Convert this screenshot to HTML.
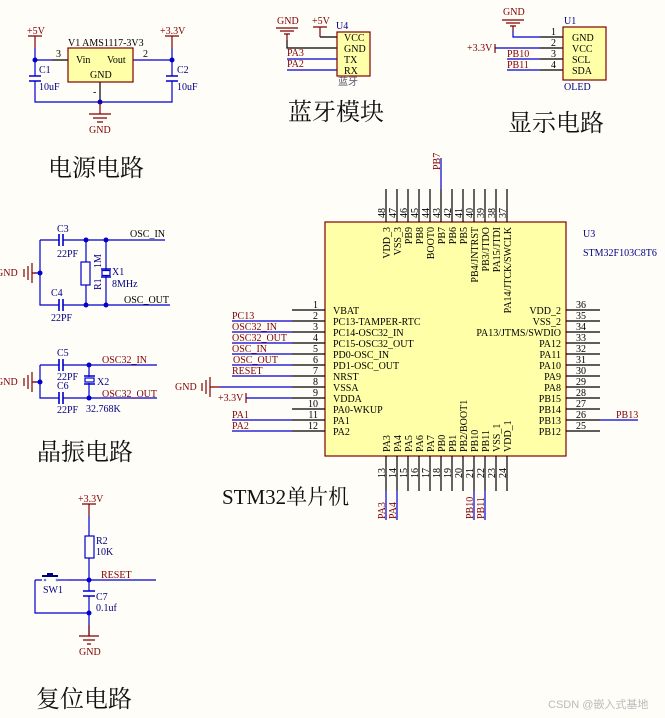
<!DOCTYPE html>
<html><head><meta charset="utf-8"><style>
html,body{margin:0;padding:0;background:#fffdf8}
svg{display:block}
text{font-family:"Liberation Serif","Noto Serif CJK SC",serif;font-size:10px}
.cn{font-family:"Noto Serif CJK SC","Noto Sans CJK SC",serif;font-size:24px;fill:#111}
.net{fill:#800000}
.bl{fill:#000080}
.w{stroke:#0000d0;stroke-width:1.2;fill:none}
.p{stroke:#000;stroke-width:1.2;fill:none}
.r{stroke:#800000;stroke-width:1.2;fill:none}
.cap{stroke:#0000d0;stroke-width:1.6;fill:none}
</style></head><body>
<svg width="665" height="718" viewBox="0 0 665 718" xmlns="http://www.w3.org/2000/svg">
<!-- POWER -->
<text x="27" y="34" class="net">+5V</text>
<path class="r" d="M28 36H42M35 36V48"/>
<path class="w" d="M35 48V76M35 81V102H172V81M172 76V48M35 60H52M133 60H172"/>
<path class="p" d="M52 60H68M100 82V102"/>
<path class="cap" d="M29 76H41M29 81H41M166 76H178M166 81H178"/>
<rect x="68" y="48" width="65" height="34" fill="#ffffa8" stroke="#800000" stroke-width="1.2"/>
<text x="68" y="46">V1  AMS1117-3V3</text>
<text x="56" y="57">3</text><text x="143" y="57">2</text>
<text x="76" y="63">Vin</text><text x="107" y="63">Vout</text><text x="90" y="78">GND</text>
<text x="93" y="95">-</text>
<text x="39" y="73" class="bl">C1</text><text x="39" y="90" class="bl">10uF</text>
<text x="177" y="73" class="bl">C2</text><text x="177" y="90" class="bl">10uF</text>
<text x="160" y="34" class="net">+3.3V</text>
<path class="r" d="M165 36H179M172 36V48"/>
<circle cx="35" cy="60" r="2.5" fill="#0000d0"/><circle cx="172" cy="60" r="2.5" fill="#0000d0"/><circle cx="100" cy="102" r="2.5" fill="#0000d0"/>
<path class="r" d="M100 102V114M89 114H111M93 118H107M97 122H103"/>
<text x="89" y="133" class="net">GND</text>
<text x="48" y="176" class="cn">电源电路</text>

<!-- BLUETOOTH -->
<text x="277" y="24" class="net">GND</text>
<path class="r" d="M276 28H298M280 31H294M284 34H290M287 34V40"/>
<path class="p" d="M287 40V48H337M320 37H337"/>
<text x="312" y="24" class="net">+5V</text>
<path class="r" d="M313 27H327M320 27V37"/>
<path class="w" d="M287 59H337M287 70H337"/>
<text x="287" y="56" class="net">PA3</text><text x="287" y="67" class="net">PA2</text>
<rect x="337" y="32" width="33" height="44" fill="#ffffa8" stroke="#800000" stroke-width="1.2"/>
<text x="336" y="29" class="bl">U4</text>
<text x="344" y="41">VCC</text><text x="344" y="52">GND</text><text x="344" y="63">TX</text><text x="344" y="74">RX</text>
<text x="338" y="85" style="fill:#556;font-family:'Noto Sans CJK SC',sans-serif;font-size:10px">蓝牙</text>
<text x="288" y="120" class="cn">蓝牙模块</text>

<!-- OLED -->
<text x="503" y="15" class="net">GND</text>
<path class="r" d="M502 20H524M506 23H520M510 26H516M513 26V31"/>
<path class="w" d="M513 31V37H540"/>
<text x="467" y="51" class="net">+3.3V</text>
<path class="r" d="M495 44V53"/>
<path class="w" d="M495 48H540M507 59H540M507 70H540"/>
<path class="p" d="M540 37H563M540 48H563M540 59H563M540 70H563"/>
<text x="551" y="35">1</text><text x="551" y="46">2</text><text x="551" y="57">3</text><text x="551" y="68">4</text>
<text x="507" y="57" class="net">PB10</text><text x="507" y="68" class="net">PB11</text>
<rect x="563" y="27" width="43" height="53" fill="#ffffa8" stroke="#800000" stroke-width="1.2"/>
<text x="564" y="24" class="bl">U1</text><text x="564" y="90" class="bl">OLED</text>
<text x="572" y="41">GND</text><text x="572" y="52">VCC</text><text x="572" y="63">SCL</text><text x="572" y="74">SDA</text>
<text x="508" y="131" class="cn">显示电路</text>

<!-- CRYSTAL 8M -->
<path class="w" d="M40 240H59M63 240H165M40 240V305H59M63 305H170M86 240V262M86 285V305M106 240V270M106 276V305M34 273H40"/>
<path class="cap" d="M59 234V246M63 234V246M59 299V311M63 299V311M101 269H111M101 277H111"/>
<rect x="81" y="262" width="9" height="23" fill="none" stroke="#0000d0" stroke-width="1.2"/>
<rect x="102" y="270.5" width="8" height="5" fill="none" stroke="#0000d0" stroke-width="1.2"/>
<circle cx="86" cy="240" r="2.5" fill="#0000d0"/><circle cx="106" cy="240" r="2.5" fill="#0000d0"/>
<circle cx="86" cy="305" r="2.5" fill="#0000d0"/><circle cx="106" cy="305" r="2.5" fill="#0000d0"/><circle cx="40" cy="273" r="2.5" fill="#0000d0"/>
<path class="r" d="M24 269V277M28 266V280M32 263V283M32 273H36"/>
<text x="-4" y="276" class="net">GND</text>
<text x="57" y="232" class="bl">C3</text><text x="57" y="257" class="bl">22PF</text>
<text x="51" y="296" class="bl">C4</text><text x="51" y="321" class="bl">22PF</text>
<text transform="translate(101,290) rotate(-90)" class="bl">R1</text>
<text transform="translate(101,268) rotate(-90)" class="bl">1M</text>
<text x="112" y="275" class="bl">X1</text><text x="112" y="287" class="bl">8MHz</text>
<text x="130" y="237" style="fill:#000">OSC_IN</text>
<text x="124" y="303" style="fill:#000">OSC_OUT</text>
<!-- CRYSTAL 32K -->
<path class="w" d="M40 365H59M63 365H157M40 365V398H59M63 398H157M89 365V377M89 383V398M34 382H40"/>
<path class="cap" d="M59 359V371M63 359V371M59 392V404M63 392V404M84 376H95M84 384H95"/>
<rect x="85" y="378" width="9" height="4" fill="none" stroke="#0000d0" stroke-width="1.2"/>
<circle cx="89" cy="365" r="2.5" fill="#0000d0"/><circle cx="89" cy="398" r="2.5" fill="#0000d0"/><circle cx="40" cy="382" r="2.5" fill="#0000d0"/>
<path class="r" d="M24 378V386M28 375V389M32 372V392M32 382H36"/>
<text x="-4" y="385" class="net">GND</text>
<text x="57" y="356" class="bl">C5</text><text x="57" y="380" class="bl">22PF</text>
<text x="57" y="389" class="bl">C6</text><text x="57" y="413" class="bl">22PF</text>
<text x="97" y="385" class="bl">X2</text><text x="86" y="412" class="bl">32.768K</text>
<text x="102" y="363" class="net">OSC32_IN</text><text x="102" y="397" class="net">OSC32_OUT</text>
<text x="37" y="460" class="cn">晶振电路</text>

<!-- RESET -->
<text x="78" y="502" class="net">+3.3V</text>
<path class="r" d="M82 504H96M89 504V516"/>
<path class="w" d="M89 516V536M89 558V591M89 596V636M68 580H156M35 580H42M35 580V613H89"/>
<rect x="85" y="536" width="9" height="22" fill="none" stroke="#0000d0" stroke-width="1.2"/>
<path class="cap" d="M83 591H95M83 596H95"/>
<path d="M42 576H58M47 574H53" stroke="#000080" stroke-width="2"/>
<circle cx="45" cy="580" r="1.3" fill="#6080d0"/><circle cx="57" cy="580" r="1.3" fill="#6080d0"/>
<path class="w" d="M58 580H68"/>
<circle cx="89" cy="580" r="2.5" fill="#0000d0"/><circle cx="89" cy="613" r="2.5" fill="#0000d0"/>
<path class="r" d="M89 625V636M79 636H99M83 640H95M87 644H91"/>
<text x="79" y="655" class="net">GND</text>
<text x="101" y="578" class="net">RESET</text>
<text x="43" y="593" class="bl">SW1</text>
<text x="96" y="544" class="bl">R2</text><text x="96" y="555" class="bl">10K</text>
<text x="96" y="600" class="bl">C7</text><text x="96" y="611" class="bl">0.1uf</text>
<text x="36" y="707" class="cn">复位电路</text>

<!-- STM32 -->
<rect x="325" y="222" width="241" height="234" fill="#ffffa8" stroke="#800000" stroke-width="1.2"/>
<text x="583" y="237" class="bl">U3</text><text x="583" y="256" class="bl">STM32F103C8T6</text>
<path class="p" d="M386 189V222M397 189V222M408 189V222M419 189V222M430 189V222M441 189V222M452 189V222M463 189V222M474 189V222M485 189V222M496 189V222M507 189V222"/>
<path class="w" d="M441 158V189"/>
<text transform="translate(440,170) rotate(-90)" class="net">PB7</text>
<g>
<text transform="translate(385,218) rotate(-90)">48</text><text transform="translate(396,218) rotate(-90)">47</text>
<text transform="translate(407,218) rotate(-90)">46</text><text transform="translate(418,218) rotate(-90)">45</text>
<text transform="translate(429,218) rotate(-90)">44</text><text transform="translate(440,218) rotate(-90)">43</text>
<text transform="translate(451,218) rotate(-90)">42</text><text transform="translate(462,218) rotate(-90)">41</text>
<text transform="translate(473,218) rotate(-90)">40</text><text transform="translate(484,218) rotate(-90)">39</text>
<text transform="translate(495,218) rotate(-90)">38</text><text transform="translate(506,218) rotate(-90)">37</text>
</g>
<g text-anchor="end">
<text transform="translate(390,227) rotate(-90)">VDD_3</text><text transform="translate(401,227) rotate(-90)">VSS_3</text>
<text transform="translate(412,227) rotate(-90)">PB9</text><text transform="translate(423,227) rotate(-90)">PB8</text>
<text transform="translate(434,227) rotate(-90)">BOOT0</text><text transform="translate(445,227) rotate(-90)">PB7</text>
<text transform="translate(456,227) rotate(-90)">PB6</text><text transform="translate(467,227) rotate(-90)">PB5</text>
<text transform="translate(478,227) rotate(-90)">PB4/JNTRST</text><text transform="translate(489,227) rotate(-90)">PB3/JTDO</text>
<text transform="translate(500,227) rotate(-90)">PA15/JTDI</text><text transform="translate(511,227) rotate(-90)">PA14/JTCK/SWCLK</text>
</g>
<!-- bottom -->
<path class="p" d="M386 456V491M397 456V491M408 456V491M419 456V491M430 456V491M441 456V491M452 456V491M463 456V491M474 456V491M485 456V491M496 456V491M507 456V491"/>
<path class="w" d="M386 491V520M397 491V520M474 491V520M485 491V520"/>
<g>
<text transform="translate(385,478) rotate(-90)">13</text><text transform="translate(396,478) rotate(-90)">14</text>
<text transform="translate(407,478) rotate(-90)">15</text><text transform="translate(418,478) rotate(-90)">16</text>
<text transform="translate(429,478) rotate(-90)">17</text><text transform="translate(440,478) rotate(-90)">18</text>
<text transform="translate(451,478) rotate(-90)">19</text><text transform="translate(462,478) rotate(-90)">20</text>
<text transform="translate(473,478) rotate(-90)">21</text><text transform="translate(484,478) rotate(-90)">22</text>
<text transform="translate(495,478) rotate(-90)">23</text><text transform="translate(506,478) rotate(-90)">24</text>
<text transform="translate(385,519) rotate(-90)" class="net">PA3</text><text transform="translate(396,519) rotate(-90)" class="net">PA4</text>
<text transform="translate(473,519) rotate(-90)" class="net">PB10</text><text transform="translate(484,519) rotate(-90)" class="net">PB11</text>
<text transform="translate(390,452) rotate(-90)">PA3</text><text transform="translate(401,452) rotate(-90)">PA4</text>
<text transform="translate(412,452) rotate(-90)">PA5</text><text transform="translate(423,452) rotate(-90)">PA6</text>
<text transform="translate(434,452) rotate(-90)">PA7</text><text transform="translate(445,452) rotate(-90)">PB0</text>
<text transform="translate(456,452) rotate(-90)">PB1</text><text transform="translate(467,452) rotate(-90)">PB2/BOOT1</text>
<text transform="translate(478,452) rotate(-90)">PB10</text><text transform="translate(489,452) rotate(-90)">PB11</text>
<text transform="translate(500,452) rotate(-90)">VSS_1</text><text transform="translate(511,452) rotate(-90)">VDD_1</text>
</g>
<!-- left -->
<path class="p" d="M292 310H325M292 321H325M292 332H325M292 343H325M292 354H325M292 365H325M292 376H325M292 387H325M292 398H325M292 409H325M292 420H325M292 431H325"/>
<path class="w" d="M232 321H292M232 332H292M232 343H292M232 354H292M232 365H292M232 376H292M220 387H292M246 398H292M232 420H292M232 431H292"/>
<path class="r" d="M202 383V391M206 380V394M210 377V397M210 387H220M246 393V403"/>
<text x="175" y="390" class="net">GND</text>
<text x="218" y="401" class="net">+3.3V</text>
<g class="net">
<text x="232" y="319">PC13</text><text x="232" y="330">OSC32_IN</text><text x="232" y="341">OSC32_OUT</text>
<text x="232" y="352">OSC_IN</text><text x="233" y="363">OSC_OUT</text><text x="232" y="374">RESET</text>
<text x="232" y="418">PA1</text><text x="232" y="429">PA2</text>
</g>
<g text-anchor="end">
<text x="318" y="308">1</text><text x="318" y="319">2</text><text x="318" y="330">3</text><text x="318" y="341">4</text>
<text x="318" y="352">5</text><text x="318" y="363">6</text><text x="318" y="374">7</text><text x="318" y="385">8</text>
<text x="318" y="396">9</text><text x="318" y="407">10</text><text x="318" y="418">11</text><text x="318" y="429">12</text>
</g>
<g>
<text x="333" y="314">VBAT</text><text x="333" y="325">PC13-TAMPER-RTC</text><text x="333" y="336">PC14-OSC32_IN</text>
<text x="333" y="347">PC15-OSC32_OUT</text><text x="333" y="358">PD0-OSC_IN</text><text x="333" y="369">PD1-OSC_OUT</text>
<text x="333" y="380">NRST</text><text x="333" y="391">VSSA</text><text x="333" y="402">VDDA</text>
<text x="333" y="413">PA0-WKUP</text><text x="333" y="424">PA1</text><text x="333" y="435">PA2</text>
</g>
<!-- right -->
<path class="p" d="M566 310H600M566 321H600M566 332H600M566 343H600M566 354H600M566 365H600M566 376H600M566 387H600M566 398H600M566 409H600M566 420H600M566 431H600"/>
<path class="w" d="M600 420H638"/>
<text x="616" y="418" class="net">PB13</text>
<g>
<text x="576" y="308">36</text><text x="576" y="319">35</text><text x="576" y="330">34</text><text x="576" y="341">33</text>
<text x="576" y="352">32</text><text x="576" y="363">31</text><text x="576" y="374">30</text><text x="576" y="385">29</text>
<text x="576" y="396">28</text><text x="576" y="407">27</text><text x="576" y="418">26</text><text x="576" y="429">25</text>
</g>
<g text-anchor="end">
<text x="561" y="314">VDD_2</text><text x="561" y="325">VSS_2</text><text x="561" y="336">PA13/JTMS/SWDIO</text>
<text x="561" y="347">PA12</text><text x="561" y="358">PA11</text><text x="561" y="369">PA10</text>
<text x="561" y="380">PA9</text><text x="561" y="391">PA8</text><text x="561" y="402">PB15</text>
<text x="561" y="413">PB14</text><text x="561" y="424">PB13</text><text x="561" y="435">PB12</text>
</g>
<text x="222" y="504" style="font-size:21px;fill:#111;font-family:'Liberation Serif','Noto Serif CJK SC',serif">STM32单片机</text>
<text x="548" y="708" style="fill:#bbb;font-size:11px;font-family:'Liberation Sans','Noto Sans CJK SC',sans-serif">CSDN @嵌入式基地</text>
</svg>
</body></html>
